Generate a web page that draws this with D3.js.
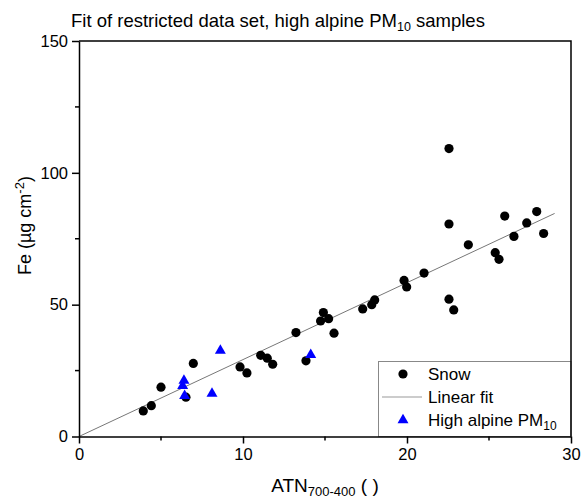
<!DOCTYPE html>
<html>
<head>
<meta charset="utf-8">
<script src="https://cdn.jsdelivr.net/npm/d3@7"></script>
<style>
  body { margin: 0; background: #fff; }
  text { font-family: "Liberation Sans", Arial, sans-serif; fill: #000; }
</style>
</head>
<body>
<script>
// snow samples: ATN700-400 vs Fe
const snowX = [3.92, 4.41, 5.0, 6.97, 6.52, 9.82, 10.24, 11.08, 11.48, 11.81, 13.23, 13.84,
  14.9, 14.73, 15.22, 15.55, 17.3, 17.85, 18.03, 19.82, 19.98, 21.04, 22.56, 22.56,
  22.56, 22.85, 23.74, 25.38, 25.61, 25.96, 26.52, 27.3, 27.91, 28.33]
const snowY = [9.7, 11.7, 18.7, 27.7, 14.9, 26.4, 24.1, 30.8, 29.7, 27.4, 39.4, 28.7,
  47.0, 43.8, 44.7, 39.2, 48.4, 50.0, 51.8, 59.2, 56.7, 62.0, 109.2, 80.6,
  52.1, 48.0, 72.7, 69.7, 67.2, 83.6, 75.9, 81.0, 85.3, 77.0]

// high alpine PM10
const pmX = [6.4, 6.32, 6.44, 8.11, 8.62, 14.13]
const pmY = [21.2, 19.2, 15.4, 16.3, 32.6, 31.0]

// linear fit endpoints
const fitX = [0, 29]
const fitY = [0, 84.6]

const xTicks = [0, 10, 20, 30]
const yTicks = [0, 50, 100, 150]
const xMinor = [5, 15, 25]
const yMinor = [25, 75, 125]

const width = 581
const height = 500
const margin = { top: 41, right: 10, bottom: 64, left: 79 }

const svg = d3.select('body')
  .append('svg')
  .attr('width', width)
  .attr('height', height)

const x = d3.scaleLinear().domain([0, 30]).range([margin.left, width - margin.right])
const y = d3.scaleLinear().domain([0, 150]).range([height - margin.bottom + 0.5, margin.top])

// clip for the fit line
svg.append('clipPath').attr('id', 'clip')
  .append('rect')
  .attr('x', x(0)).attr('y', y(150))
  .attr('width', x(30) - x(0)).attr('height', y(0) - y(150))

// legend box (drawn first so marks sit above it)
svg.append('rect')
  .attr('x', 378.5).attr('y', 361.5)
  .attr('width', x(30) - 378.5).attr('height', y(0) - 361.5)
  .attr('fill', '#fff')
  .attr('stroke', '#888')
  .attr('stroke-width', 1)

// fit line
svg.append('path')
  .datum(fitX.map((d, i) => [d, fitY[i]]))
  .attr('clip-path', 'url(#clip)')
  .attr('fill', 'none')
  .attr('stroke', '#777')
  .attr('stroke-width', 1)
  .attr('d', d3.line().x(d => x(d[0])).y(d => y(d[1])))

// snow points
svg.append('g')
  .selectAll('circle')
  .data(snowX.map((d, i) => [d, snowY[i]]))
  .join('circle')
  .attr('cx', d => x(d[0]))
  .attr('cy', d => y(d[1]))
  .attr('r', 4.6)
  .attr('fill', '#000')

// PM10 triangles
const tri = d3.symbol().type(d3.symbolTriangle).size(52)
svg.append('g')
  .selectAll('path')
  .data(pmX.map((d, i) => [d, pmY[i]]))
  .join('path')
  .attr('transform', d => `translate(${x(d[0])},${y(d[1])})`)
  .attr('d', tri)
  .attr('fill', '#0000ff')

// axes
const xAxis = svg.append('g')
  .attr('transform', `translate(0,${y(0)})`)
  .call(d3.axisBottom(x).tickValues(xTicks).tickSize(7).tickSizeOuter(0).tickPadding(5))
xAxis.selectAll('text').attr('font-size', 16.5).attr('font-family', 'Liberation Sans, Arial, sans-serif')
xAxis.selectAll('.tick line').attr('stroke-width', 1.5)
xAxis.select('.domain').attr('stroke-width', 1.5)

const yAxis = svg.append('g')
  .attr('transform', `translate(${x(0)},0)`)
  .call(d3.axisLeft(y).tickValues(yTicks).tickSize(7).tickSizeOuter(0).tickPadding(4))
yAxis.selectAll('text').attr('font-size', 16.5).attr('font-family', 'Liberation Sans, Arial, sans-serif')
yAxis.selectAll('.tick line').attr('stroke-width', 1.5)
yAxis.select('.domain').attr('stroke-width', 1.5)

// minor ticks
svg.append('g')
  .selectAll('line')
  .data(xMinor)
  .join('line')
  .attr('x1', d => x(d)).attr('x2', d => x(d))
  .attr('y1', y(0)).attr('y2', y(0) + 4)
  .attr('stroke', '#000').attr('stroke-width', 1.5)

svg.append('g')
  .selectAll('line')
  .data(yMinor)
  .join('line')
  .attr('x1', x(0) - 4).attr('x2', x(0))
  .attr('y1', d => y(d)).attr('y2', d => y(d))
  .attr('stroke', '#000').attr('stroke-width', 1.5)

// top and right frame
svg.append('path')
  .attr('d', `M${x(0)},${y(150)}H${x(30)}V${y(0)}`)
  .attr('fill', 'none')
  .attr('stroke', '#000')
  .attr('stroke-width', 1.5)

// title
const title = svg.append('text')
  .attr('x', 71)
  .attr('y', 27)
  .attr('font-size', 18.5)
title.append('tspan').text('Fit of restricted data set, high alpine PM')
title.append('tspan').attr('font-size', 12.5).attr('dy', 4).text('10')
title.append('tspan').attr('dy', -4).text(' samples')

// x label
const xl = svg.append('text')
  .attr('x', x(15))
  .attr('y', 492)
  .attr('text-anchor', 'middle')
  .attr('font-size', 19)
xl.append('tspan').text('ATN')
xl.append('tspan').attr('font-size', 13).attr('dy', 4).text('700-400')
xl.append('tspan').attr('dy', -4).text(' ( )')

// y label
const yl = svg.append('text')
  .attr('transform', `translate(31,${y(80)}) rotate(-90)`)
  .attr('text-anchor', 'middle')
  .attr('font-size', 18)
yl.append('tspan').text('Fe (µg cm')
yl.append('tspan').attr('font-size', 13).attr('dy', -7).text('-2')
yl.append('tspan').attr('dy', 7).text(')')

// legend
const lg = svg.append('g')
lg.append('circle').attr('cx', 403).attr('cy', 374).attr('r', 4.6).attr('fill', '#000')
lg.append('line').attr('x1', 382).attr('x2', 422).attr('y1', 397).attr('y2', 397)
  .attr('stroke', '#999').attr('stroke-width', 1)
lg.append('path').attr('transform', 'translate(403,420)').attr('d', tri).attr('fill', '#0000ff')
lg.append('text').attr('x', 428).attr('y', 380).attr('font-size', 17).text('Snow')
lg.append('text').attr('x', 428).attr('y', 402.5).attr('font-size', 17).text('Linear fit')
const lt = lg.append('text').attr('x', 428).attr('y', 426).attr('font-size', 17)
lt.append('tspan').text('High alpine PM')
lt.append('tspan').attr('font-size', 12).attr('dy', 4).text('10')
</script>
</body>
</html>
